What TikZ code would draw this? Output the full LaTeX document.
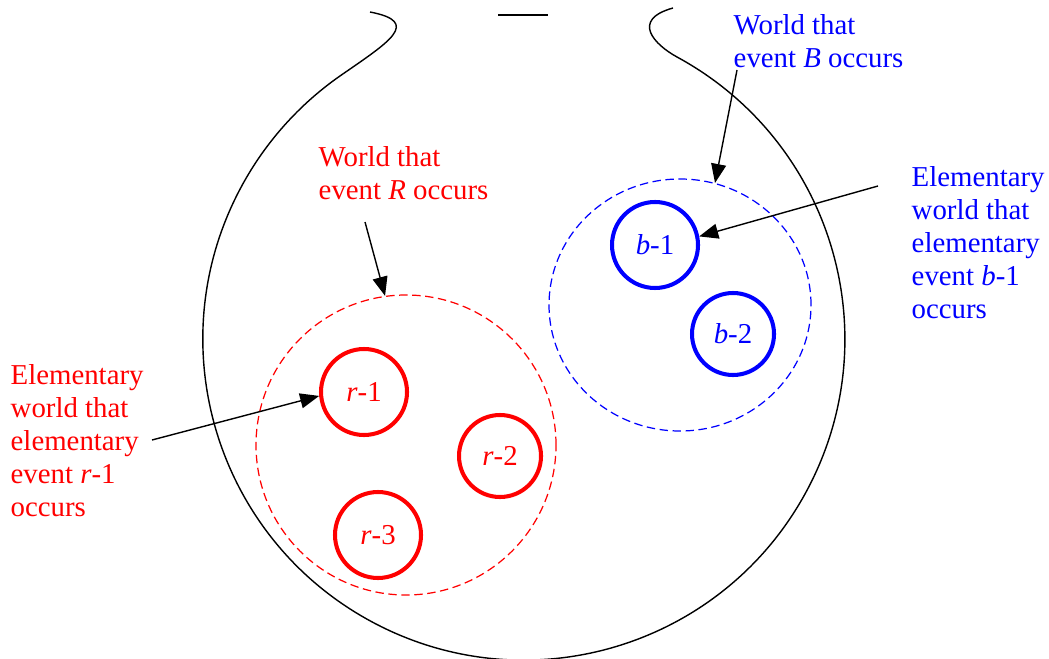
\documentclass[tikz,border=0pt]{standalone}
\usepackage{fontspec}
\setmainfont{Liberation Serif}
\usetikzlibrary{arrows.meta,shapes.geometric}
\begin{document}
\begin{tikzpicture}[every node/.style={align=left,inner sep=0pt,font=\fontsize{8.2}{9.4}\selectfont},
  elem/.style={circle,draw,line width=1.15pt,minimum size=0.86cm},
  world/.style={draw,line width=0.35pt,dash pattern=on 2.4pt off 1.3pt},
  >={Triangle[length=1.9mm,width=1.5mm]}]
  \useasboundingbox (0,0) rectangle (10.49,6.58);
  % the urn
  \draw[line width=0.4pt] (6.73,6.50) .. controls (6.30,6.38) and (6.55,6.13) .. (6.77,6.01)
    arc[start angle=61.5,end angle=-235.1,radius=3.21]
    .. controls (3.89,6.16) and (4.22,6.36) .. (3.70,6.46);
  \draw[line width=0.4pt] (4.98,6.43) -- (5.48,6.43);
  % worlds
  \node[world,red,circle,minimum size=3.0cm] (R) at (4.06,2.13){};
  \node[world,blue,ellipse,minimum width=2.62cm,minimum height=2.52cm] (B) at (6.80,3.53){};
  \node[elem,red] (r1) at (3.64,2.66){\textit{r}-1};
  \node[elem,red,minimum size=0.82cm] (r2) at (5.00,2.02){\textit{r}-2};
  \node[elem,red] (r3) at (3.78,1.23){\textit{r}-3};
  \node[elem,blue] (b1) at (6.55,4.13){\textit{b}-1};
  \node[elem,blue,minimum size=0.82cm] (b2) at (7.33,3.24){\textit{b}-2};
  % labels
  \node[red,anchor=north west] (Rlab) at (3.18,5.12){World that\\event \textit{R} occurs};
  \node[red,anchor=north west] (r1lab) at (0.10,2.94){Elementary\\world that\\elementary\\event \textit{r}-1\\occurs};
  \node[blue,anchor=north west] (Blab) at (7.33,6.44){World that\\event \textit{B} occurs};
  \node[blue,anchor=north west] (b1lab) at (9.11,4.92){Elementary\\world that\\elementary\\event \textit{b}-1\\occurs};
  \coordinate (Rtail) at (3.65,4.36);
  \coordinate (r1tail) at (1.52,2.18);
  \coordinate (Btail) at (7.37,5.88);
  \coordinate (b1tail) at (8.78,4.72);
  \draw[->] (Rtail) -- (R.98);
  \draw[->] (r1tail) -- (r1.185);
  \draw[->] (Btail) -- (B.74);
  \draw[->] (b1tail) -- (b1.11);
\end{tikzpicture}
\end{document}
